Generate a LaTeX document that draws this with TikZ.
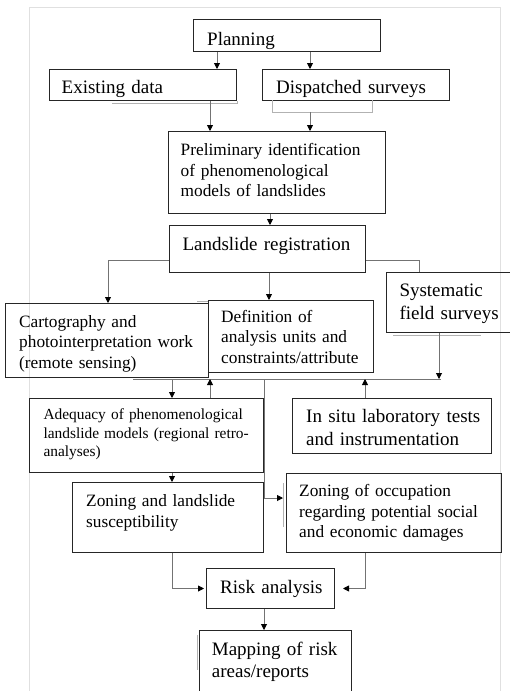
\documentclass[tikz,border=0pt]{standalone}
\usepackage{fontspec}
\setmainfont{Liberation Serif}
\usetikzlibrary{arrows.meta,calc}
\begin{document}
\begin{tikzpicture}[x=1pt,y=-1pt,
  box/.style={draw=black!85,line width=1pt,inner sep=0,anchor=north west},
  txt/.style={anchor=base west,inner sep=0,align=left,text width=320pt},
  big/.style={font=\fontsize{19}{22.5}\selectfont},
  mid/.style={font=\fontsize{17.3}{20.5}\selectfont},
  sml/.style={font=\fontsize{15.4}{18.5}\selectfont},
  conn/.style={draw=black!55,line width=0.9pt},
  arr/.style={conn,-{Triangle[length=6pt,width=6pt,color=black]}},
  ghost/.style={draw=black!30,line width=0.8pt},
  frame/.style={draw=black!12,line width=1pt}]
\fill[white] (0,0) rectangle (510,691);
\useasboundingbox (0,0) rectangle (510,691);
% outer frame
\draw[frame] (29,695) -- (29,7) -- (500,7) -- (500,695);
% x positions of connectors
\coordinate (x108) at (108,0);
\coordinate (x172) at (172,0);
\coordinate (x210) at (210,0);
\coordinate (x217) at (217,0);
\coordinate (x264) at (264,0);
\coordinate (x269) at (269,0);
\coordinate (x270) at (270,0);
\coordinate (x310) at (310,0);
\coordinate (x365) at (365,0);
\coordinate (x419) at (419,0);
\coordinate (x439) at (439,0);
% boxes
\node[box,minimum width=187pt,minimum height=32pt] (plan) at (193,19) {};
\node[box,minimum width=187pt,minimum height=31pt] (exist) at (49,69) {};
\node[box,minimum width=187pt,minimum height=31pt] (disp) at (262,69) {};
\node[box,minimum width=217pt,minimum height=82pt] (prelim) at (168,131) {};
\node[box,minimum width=196pt,minimum height=47pt] (reg) at (169,225) {};
\node[box,minimum width=130pt,minimum height=60pt] (syst) at (386,272) {};
\node[box,minimum width=165pt,minimum height=72pt] (defn) at (208,300) {};
\node[box,minimum width=203pt,minimum height=74pt] (carto) at (5,303) {};
\node[box,minimum width=234pt,minimum height=74pt] (adeq) at (29,398) {};
\node[box,minimum width=199pt,minimum height=55pt] (insitu) at (292,398) {};
\node[box,minimum width=191pt,minimum height=70pt] (zonel) at (72,482) {};
\node[box,minimum width=215pt,minimum height=79pt] (zoneo) at (286,473) {};
\node[box,minimum width=128pt,minimum height=40pt] (risk) at (206,568) {};
\node[box,minimum width=152pt,minimum height=80pt] (map) at (199,630) {};
% faint shadow lines
\draw[ghost] (112,103) -- (exist.south east |- 0,103) -- (exist.south east);
\draw[ghost] (272,100) -- (272,112) -- (372,112) -- (372,100);
\coordinate (dispb) at (310,112);
\draw[ghost] (197,301) -- (208,301);
\draw[ghost] (393,335) -- (481,335);
\draw[ghost] (283,483) -- (283,527);
\draw[ghost] (197.5,635) -- (197.5,670);
% connectors
\draw[arr] (plan.south -| x217) -- (exist.north -| x217);
\draw[arr] (plan.south -| x310) -- (disp.north -| x310);
\draw[arr] (exist.south -| x210) -- (prelim.north -| x210);
\draw[arr] (dispb) -- (prelim.north -| dispb);
\draw[arr] (prelim.south -| x270) -- (reg.north -| x270);
\draw[arr] ($(reg.south west)+(0,-13)$) -| (carto.north -| x108);
\draw[arr] (reg.south -| x269) -- (defn.north -| x269);
\draw[conn] ($(reg.south east)+(0,-13)$) -| (syst.north -| x419);
\coordinate (busL) at (133,379);
\coordinate (busR) at (441,379);
\draw[conn] (busL) -- (busR);
\draw[arr] (busL -| x172) -- (adeq.north -| x172);
\draw[arr] (adeq.north -| x210) -- (busL -| x210);
\draw[arr] (insitu.north -| x365) -- (busL -| x365);
\draw[arr] (syst.south -| x439) -- (busL -| x439);
\coordinate (zin) at (283,498);
\draw[arr] (busL -| x264) |- (zin);
\draw[arr] (adeq.south -| x172) -- (zonel.north -| x172);
\draw[arr,shorten >=2pt] (zonel.south -| x172) |- (risk.west);
\draw[arr,shorten >=8pt] (zoneo.south -| x365) |- (risk.east);
\draw[arr] (risk.south -| x264) -- (map.north -| x264);
% texts
\node[txt,big] (tplan) at (207,45) {Planning};
\node[txt,big] (texist) at (61.5,93.6) {Existing data};
\node[txt,big] (tdisp) at (276,93.6) {Dispatched surveys};
\node[txt,mid] (tprelim) at (180.5,155.5) {Preliminary identification\\of phenomenological\\models of landslides};
\node[txt,big] (treg) at (182.3,250) {Landslide registration};
\node[txt,big] (tsyst) at (399.3,296.6) {Systematic\\field surveys};
\node[txt,mid] (tcarto) at (19,327) {Cartography and\\photointerpretation work\\(remote sensing)};
\node[txt,mid] (tdefn) at (221,322) {Definition of\\analysis units and\\constraints/attribute};
\node[txt,sml] (tadeq) at (43.3,419.5) {Adequacy of phenomenological\\landslide models (regional retro-\\analyses)};
\node[txt,big] (tinsitu) at (306,422.6) {In situ laboratory tests\\and instrumentation};
\node[txt,mid] (tzonel) at (86,506.5) {Zoning and landslide\\susceptibility};
\node[txt,mid] (tzoneo) at (299,496.5) {Zoning of occupation\\regarding potential social\\and economic damages};
\node[txt,big] (trisk) at (220,593.3) {Risk analysis};
\node[txt,big] (tmap) at (211.7,655.3) {Mapping of risk\\areas/reports};
\end{tikzpicture}
\end{document}
